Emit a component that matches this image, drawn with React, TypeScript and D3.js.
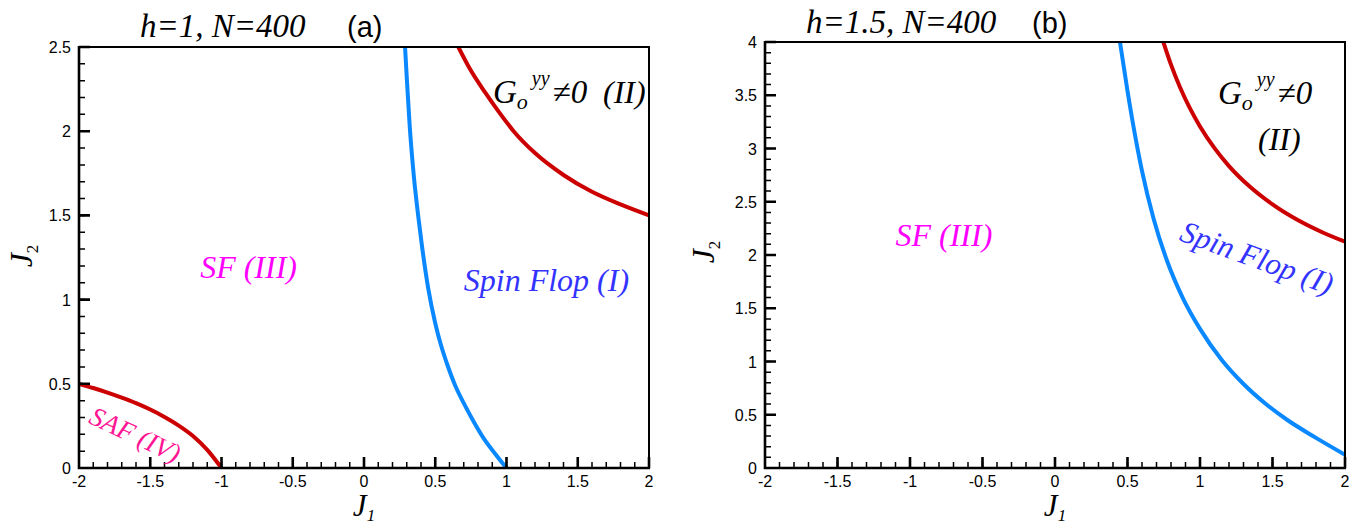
import React from 'react';
import * as d3 from 'd3';

// panel (a): h=1
const safJ1 = [-2, -1.9, -1.8, -1.7, -1.6, -1.5, -1.4, -1.3, -1.2, -1.1, -1];
const safJ2 = [0.5, 0.475, 0.448, 0.418, 0.385, 0.347, 0.303, 0.252, 0.19, 0.108, 0];
const blueAJ1 = [0.288, 0.3, 0.32, 0.35, 0.38, 0.405, 0.45, 0.5, 0.54, 0.58, 0.64, 0.7, 0.77, 0.84, 0.92, 1.0];
const blueAJ2 = [2.5, 2.32, 2.04, 1.73, 1.5, 1.33, 1.07, 0.86, 0.73, 0.625, 0.49, 0.385, 0.275, 0.176, 0.085, 0];
const redAJ1 = [0.662, 0.75, 0.85, 0.95, 1.05, 1.2, 1.4, 1.6, 1.8, 2.0];
const redAJ2 = [2.5, 2.36, 2.23, 2.11, 2.0, 1.87, 1.74, 1.64, 1.565, 1.5];

// panel (b): h=1.5
const blueBJ1 = [0.448, 0.5, 0.55, 0.6, 0.68, 0.77, 0.88, 1.0, 1.15, 1.3, 1.45, 1.6, 1.8, 2.0];
const blueBJ2 = [4.0, 3.54, 3.14, 2.79, 2.34, 1.955, 1.6, 1.306, 1.014, 0.789, 0.606, 0.453, 0.283, 0.125];
const redBJ1 = [0.747, 0.8, 0.862, 0.93, 1.0, 1.1, 1.2, 1.345, 1.5, 1.69, 1.85, 2.0];
const redBJ2 = [4.0, 3.787, 3.575, 3.379, 3.207, 3.003, 2.835, 2.64, 2.475, 2.316, 2.209, 2.125];

const xTicks = [-2, -1.5, -1, -0.5, 0, 0.5, 1, 1.5, 2];
const yTicksA = [0, 0.5, 1, 1.5, 2, 2.5];
const yTicksB = [0, 0.5, 1, 1.5, 2, 2.5, 3, 3.5, 4];

const RED = '#cc0000';
const BLUE = '#0a88ff';
const serif = { fontFamily: 'Liberation Serif, Times New Roman, serif', fontStyle: 'italic' as const };
const sans = { fontFamily: 'Liberation Sans, Arial, sans-serif' };

const zip = (a: number[], b: number[]) => a.map((v, i) => [v, b[i]] as [number, number]);
const fmt = (v: number) => String(v);

type Ann = { text: string; j1: number; j2: number; color: string; rot?: number; size?: number };

const Panel = ({ id, left, right, top, bottom, yMax, yTicks, curves, title, tag, titleX, titleY, tagX, gX, gJ2, iiX, iiJ2, anns, j2x, j2y }: any) => {
  const x = d3.scaleLinear().domain([-2, 2]).range([left, right]);
  const y = d3.scaleLinear().domain([0, yMax]).range([bottom, top]);

  const minorX = d3.range(-20, 21).map(d => d / 10);
  const minorY = d3.range(0, Math.round(yMax * 10) + 1).map(d => d / 10);

  const line = d3.line<[number, number]>().x(d => x(d[0])).y(d => y(d[1])).curve(d3.curveMonotoneX);

  const r = (n: number) => n.toFixed(2);
  // axis lines with their inward ticks in one path each
  const axisPath = `M${left},${top - 1}V${bottom}H${right + 1}` +
    xTicks.map(v => `M${r(x(v))},${bottom}V${bottom - 11}`).join('') +
    yTicks.map((v: number) => `M${left},${r(y(v))}H${left + 11}`).join('');
  const minorPath = minorX.map(v => `M${r(x(v))},${bottom}V${bottom - 6}`).join('') +
    minorY.map(v => `M${left},${r(y(v))}H${left + 6}`).join('');

  return (
    <g>
      <defs>
        <clipPath id={'clip' + id}>
          <rect x={left} y={top} width={right - left} height={bottom - top} />
        </clipPath>
      </defs>
      <g clipPath={`url(#clip${id})`}>
        {curves.map((c: any, i: number) => (
          <path key={i} d={line(c.pts) || ''} fill="none" stroke={c.color} strokeWidth={4} />
        ))}
      </g>

      <path d={`M${left},${top}H${right}V${bottom}`} fill="none" stroke="#000" strokeWidth={2} />
      <path d={minorPath} fill="none" stroke="#000" strokeWidth={1.5} />
      <path d={axisPath} fill="none" stroke="#000" strokeWidth={2.6} />

      <g style={sans} fontSize={16} fill="#000">
        {xTicks.map((v, i) => (
          <text key={'tx' + i} x={x(v)} y={bottom + 19} textAnchor="middle">{fmt(v)}</text>
        ))}
        {yTicks.map((v: number, i: number) => (
          <text key={'ty' + i} x={left - 8} y={y(v) + 6} textAnchor="end">{fmt(v)}</text>
        ))}
      </g>

      <text x={titleX} y={titleY} style={serif} fontSize={33}>{title}</text>
      <text x={tagX} y={titleY} style={sans} fontSize={29}>{tag}</text>

      <text x={(left + right) / 2} y={516} style={serif} fontSize={31} textAnchor="middle">
        J<tspan fontSize={17} dy={5}>1</tspan>
      </text>
      <text transform={`translate(${j2x},${j2y}) rotate(-90)`} style={serif} fontSize={32} textAnchor="middle">
        J<tspan fontSize={17} dy={6} style={{ fontStyle: 'normal' }}>2</tspan>
      </text>

      <text x={x(gX)} y={y(gJ2)} style={serif} fontSize={33} fill="#000">
        G<tspan fontSize={22} dy={6}>o</tspan><tspan fontSize={20} dy={-24} dx={4}>yy</tspan><tspan dy={18} dx={3}>≠0</tspan>
      </text>
      <text x={x(iiX)} y={y(iiJ2)} style={serif} fontSize={32} fill="#000">(II)</text>

      {anns.map((a: Ann, i: number) => (
        <text key={i} transform={`translate(${x(a.j1)},${y(a.j2)}) rotate(${a.rot || 0})`}
          style={serif} fontSize={a.size || 32} fill={a.color}>{a.text}</text>
      ))}
    </g>
  );
};

export default function App() {
  return (
    <svg width={1361} height={524} style={{ position: 'absolute', left: 0, top: 0, background: '#fff' }}>
      <Panel id="a" left={79} right={649} top={47} bottom={468} yMax={2.5} yTicks={yTicksA}
        curves={[
          { pts: zip(safJ1, safJ2), color: RED },
          { pts: zip(blueAJ1, blueAJ2), color: BLUE },
          { pts: zip(redAJ1, redAJ2), color: RED },
        ]}
        title="h=1, N=400" tag="(a)" titleX={140} titleY={37} tagX={347}
        gX={0.905} gJ2={2.17} iiX={1.677} iiJ2={2.17}
        j2x={32} j2y={256}
        anns={[
          { text: 'SF (III)', j1: -1.15, j2: 1.13, color: '#ff00ff' },
          { text: 'Spin Flop (I)', j1: 0.7, j2: 1.05, color: '#3333ff' },
          { text: 'SAF (IV)', j1: -1.94, j2: 0.27, color: '#ff1493', rot: 25, size: 27 },
        ]} />
      <Panel id="b" left={765} right={1345} top={42} bottom={468} yMax={4} yTicks={yTicksB}
        curves={[
          { pts: zip(blueBJ1, blueBJ2), color: BLUE },
          { pts: zip(redBJ1, redBJ2), color: RED },
        ]}
        title="h=1.5, N=400" tag="(b)" titleX={806} titleY={33} tagX={1032}
        gX={1.124} gJ2={3.42} iiX={1.4} iiJ2={2.99}
        j2x={714} j2y={252}
        anns={[
          { text: 'SF (III)', j1: -1.1, j2: 2.08, color: '#ff00ff' },
          { text: 'Spin Flop (I)', j1: 0.85, j2: 2.14, color: '#3333ff', rot: 20, size: 31 },
        ]} />
    </svg>
  );
}
